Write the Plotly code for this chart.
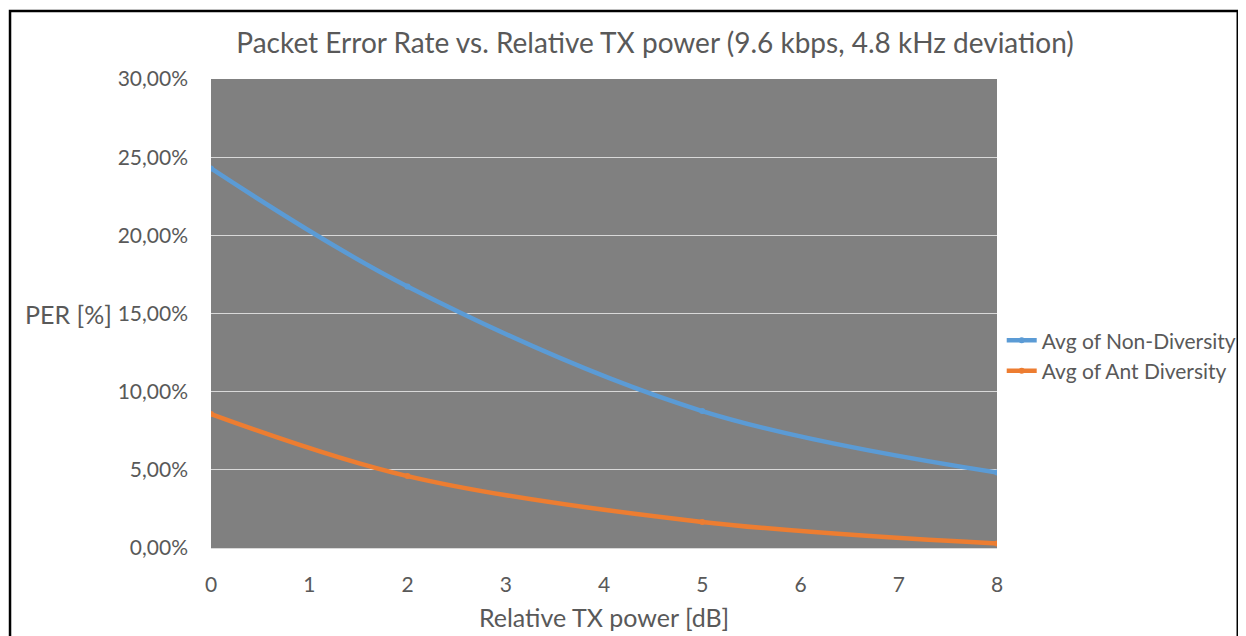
import plotly.graph_objects as go

# data
tx_power = [0, 2, 5, 8]
non_diversity = [0.2428, 0.1673, 0.0876, 0.0483]
ant_diversity = [0.0857, 0.0460, 0.0167, 0.0028]
x_ticks = [0, 1, 2, 3, 4, 5, 6, 7, 8]
y_ticks = [0, 0.05, 0.10, 0.15, 0.20, 0.25, 0.30]

font_name = "Lato"
text_grey = "#595959"

fig = go.Figure()
fig.add_trace(go.Scatter(
    x=tx_power, y=non_diversity, name="Avg of Non-Diversity",
    mode="lines+markers", line=dict(color="#5B9BD5", width=4.5, shape="spline"),
    marker=dict(size=6, color="#5B9BD5")))
fig.add_trace(go.Scatter(
    x=tx_power, y=ant_diversity, name="Avg of Ant Diversity",
    mode="lines+markers", line=dict(color="#ED7D31", width=4.5, shape="spline"),
    marker=dict(size=6, color="#ED7D31")))

# page body has an 8px margin, so margins are shifted to compensate
fig.update_layout(
    width=1246, height=636,
    margin=dict(l=203, r=253, t=71, b=96),
    paper_bgcolor="white", plot_bgcolor="#808080",
    separators=",.",
    font=dict(family=font_name, color=text_grey, size=21),
    title=dict(text="Packet Error Rate vs. Relative TX power (9.6 kbps, 4.8 kHz deviation)",
               font=dict(family=font_name, size=28, color=text_grey),
               x=0.565, xref="paper", xanchor="center", y=0.945, yanchor="middle"),
    legend=dict(x=1.006, y=0.41, xanchor="left", yanchor="middle",
                font=dict(size=21, color=text_grey), tracegroupgap=2,
                bgcolor="rgba(0,0,0,0)"),
    showlegend=True,
)
fig.update_xaxes(
    range=[0, 8], tickvals=x_ticks, showgrid=False, zeroline=False,
    showline=True, linecolor="#D9D9D9", linewidth=1,
    ticklabelstandoff=18, tickfont=dict(size=21),
    title=dict(text="Relative TX power [dB]", font=dict(size=25), standoff=14))
fig.update_yaxes(
    range=[0, 0.30], tickvals=y_ticks, tickformat=".2%",
    showgrid=True, gridcolor="#D9D9D9", gridwidth=1, zeroline=False,
    showline=False, ticklabelstandoff=22, tickfont=dict(size=21))

fig.add_annotation(text="PER [%]", xref="paper", yref="y", x=-0.124, y=0.15,
                   xanchor="right", yanchor="middle", showarrow=False,
                   font=dict(size=25, color=text_grey))

# black frame around the whole chart
fig.add_shape(type="rect", xref="paper", yref="paper",
              x0=(9 - 211) / 790, x1=(1243 - 211) / 790,
              y0=-0.3, y1=(548 - 11) / 469,
              line=dict(color="black", width=2.5), layer="above")

fig.write_html("out.html")
